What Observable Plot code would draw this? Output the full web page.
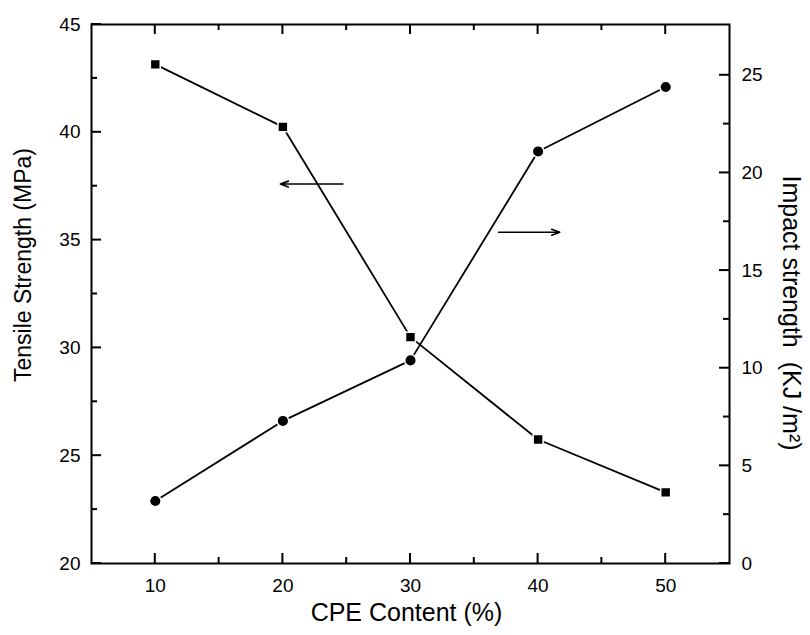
<!DOCTYPE html>
<html><head><meta charset="utf-8">
<script src="https://cdn.jsdelivr.net/npm/d3@7"></script>
<script src="https://cdn.jsdelivr.net/npm/@observablehq/plot@0.6"></script>
<style>body{margin:0;background:#fff;}</style>
</head><body><div id="chart"></div>
<script>
// Data
const cpe = [10, 20, 30, 40, 50];
const tensile = [43.15, 40.25, 30.5, 25.75, 23.3];   // MPa (left axis)
const impact = [3.2, 7.3, 10.4, 21.1, 24.4];          // KJ/m² (right axis)

// Ticks
const xTicks = [10, 20, 30, 40, 50];
const xMinor = [15, 25, 35, 45];
const leftTicks = [20, 25, 30, 35, 40, 45];
const leftMinor = [22.5, 27.5, 32.5, 37.5, 42.5];
const rightTicks = [0, 5, 10, 15, 20, 25];
const rightMinor = [2.5, 7.5, 12.5, 17.5, 22.5];

// Annotation arrows (data units)
const arrowTensile = {x1: 24.7, x2: 19.8, y: 37.6};   // left-axis units
const arrowImpact = {x1: 36.9, x2: 41.7, y: 16.96};   // right-axis units

const xDomain = [5, 55];
const leftDomain = [20, 45];
const rightDomain = [0, 27.6];
const toLeft = v => leftDomain[0] + (v - rightDomain[0]) * (leftDomain[1] - leftDomain[0]) / (rightDomain[1] - rightDomain[0]);
const fromLeft = v => rightDomain[0] + (v - leftDomain[0]) * (rightDomain[1] - rightDomain[0]) / (leftDomain[1] - leftDomain[0]);

const tData = cpe.map((c, i) => ({x: c, y: tensile[i]}));
const iData = cpe.map((c, i) => ({x: c, y: toLeft(impact[i])}));
const arrows = [
  {x1: arrowTensile.x1, x2: arrowTensile.x2, y: arrowTensile.y},
  {x1: arrowImpact.x1, x2: arrowImpact.x2, y: toLeft(arrowImpact.y)}
];

const W = 810, H = 635, mL = 91, mR = 81, mT = 24, mB = 72;
const innerW = W - mL - mR, innerH = H - mT - mB;
const MAJ = 10, MIN = 6, HALF = 1;   // tick length and half-thickness in px
const xu = px => px * (xDomain[1] - xDomain[0]) / innerW;
const yu = px => px * (leftDomain[1] - leftDomain[0]) / innerH;
const [x0, x1] = xDomain, [y0, y1] = leftDomain;

// tick rectangles (data units) built from the tick arrays
const rects = [];
const vTick = (v, len) => {
  rects.push({a: v - xu(HALF), b: v + xu(HALF), c: y0, d: y0 + yu(len)});
  rects.push({a: v - xu(HALF), b: v + xu(HALF), c: y1 - yu(len), d: y1});
};
xTicks.forEach(v => vTick(v, MAJ));
xMinor.forEach(v => vTick(v, MIN));
leftTicks.forEach(v => rects.push({a: x0, b: x0 + xu(MAJ), c: v - yu(HALF), d: v + yu(HALF)}));
leftMinor.forEach(v => rects.push({a: x0, b: x0 + xu(MIN), c: v - yu(HALF), d: v + yu(HALF)}));
rightTicks.forEach(v => rects.push({a: x1 - xu(MAJ), b: x1, c: toLeft(v) - yu(HALF), d: toLeft(v) + yu(HALF)}));
rightMinor.forEach(v => rects.push({a: x1 - xu(MIN), b: x1, c: toLeft(v) - yu(HALF), d: toLeft(v) + yu(HALF)}));

const chart = Plot.plot({
  width: W,
  height: H,
  marginLeft: mL,
  marginRight: mR,
  marginTop: mT,
  marginBottom: mB,
  style: {fontFamily: "'Liberation Sans', Arial, sans-serif", fontSize: "19px", color: "black", background: "white"},
  x: {domain: xDomain},
  y: {domain: leftDomain},
  marks: [
    Plot.frame({stroke: "black", fill: "none", strokeWidth: 2}),
    // axis labels
    Plot.axisX({ticks: xTicks, tickSize: 0, tickPadding: 15, tickFormat: d => d, label: null, fontSize: 19}),
    Plot.axisY({ticks: leftTicks, tickSize: 0, tickPadding: 11, tickFormat: d => d, label: null, fontSize: 19}),
    Plot.axisY({anchor: "right", ticks: rightTicks.map(toLeft), tickSize: 0, tickPadding: 12,
      tickFormat: d => Math.round(fromLeft(d)), label: null, fontSize: 19}),
    // inward ticks as filled rectangles
    Plot.rect(rects, {x1: "a", x2: "b", y1: "c", y2: "d", fill: "black"}),
    // axis titles
    Plot.text(["CPE Content (%)"], {frameAnchor: "bottom", textAnchor: "middle", lineAnchor: "middle", dy: 49, dx: -4, fontSize: 25}),
    Plot.text(["Tensile Strength (MPa)"], {frameAnchor: "left", textAnchor: "middle", lineAnchor: "middle", rotate: -90, dx: -68, dy: -29, fontSize: 23}),
    Plot.text(["Impact strength  (KJ /m²)"], {frameAnchor: "right", textAnchor: "middle", lineAnchor: "middle", rotate: 90, dx: 61, dy: 19, fontSize: 25}),
    // series
    Plot.line(tData, {x: "x", y: "y", stroke: "black", strokeWidth: 1.8}),
    Plot.line(iData, {x: "x", y: "y", stroke: "black", strokeWidth: 1.8}),
    Plot.dot(tData, {x: "x", y: "y", symbol: "square", r: 5.6, fill: "black", stroke: "white", strokeWidth: 1.5}),
    Plot.dot(iData, {x: "x", y: "y", symbol: "circle", r: 5.8, fill: "black", stroke: "white", strokeWidth: 1.5}),
    // arrows
    Plot.arrow(arrows, {x1: "x1", x2: "x2", y1: "y", y2: "y", stroke: "black", strokeWidth: 1.6, headLength: 8, headAngle: 40})
  ]
});
document.getElementById("chart").appendChild(chart);
</script>
</body></html>
